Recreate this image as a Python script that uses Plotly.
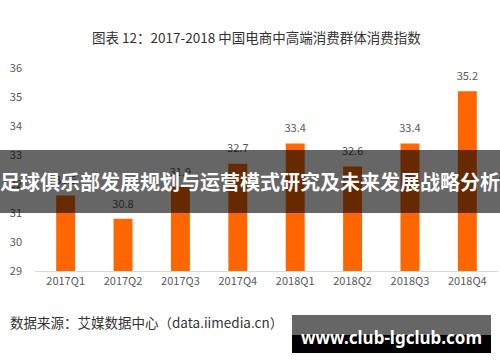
import plotly.graph_objects as go

categories = ["2017Q1", "2017Q2", "2017Q3", "2017Q4", "2018Q1", "2018Q2", "2018Q3", "2018Q4"]
values = [31.6, 30.8, 31.9, 32.7, 33.4, 32.6, 33.4, 35.2]
value_labels = ["31.6", "30.8", "31.9", "32.7", "33.4", "32.6", "33.4", "35.2"]
y_ticks = [29, 30, 31, 32, 33, 34, 35, 36]

title_text = "图表 12：2017-2018 中国电商中高端消费群体消费指数"
source_text = "数据来源：艾媒数据中心（data.iimedia.cn）"
banner_text = "足球俱乐部发展规划与运营模式研究及未来发展战略分析"
site_text = "www.club-lgclub.com"

W, H = 500, 362
L, R, T, B = 35, 2, 68, 91
PW, PH = W - L - R, H - T - B

def px(x):
    return (x - L) / PW

def py(y):
    return (H - B - y) / PH

FONT = "Noto Sans CJK SC, Noto Sans, sans-serif"
TICK = "#595959"
ORANGE = "#FF6600"

fig = go.Figure()
fig.add_trace(go.Bar(
    x=categories, y=values, marker=dict(color=ORANGE, line=dict(width=0)),
    width=0.33, hoverinfo="skip",
))
fig.add_trace(go.Scatter(
    x=categories, y=values, mode="markers+text", text=value_labels,
    textposition="top center",
    marker=dict(size=12, color="rgba(0,0,0,0)"),
    textfont=dict(family=FONT, size=11, color=TICK),
    cliponaxis=False, hoverinfo="skip",
))

shapes = [
    dict(type="rect", xref="paper", yref="paper", x0=px(0), x1=px(500), y0=py(150), y1=py(213),
         fillcolor="rgba(0,0,0,0.6)", line=dict(width=0), layer="above"),
    dict(type="rect", xref="paper", yref="paper", x0=px(292), x1=px(491), y0=py(315), y1=py(335),
         fillcolor="#666666", line=dict(width=0), layer="above"),
    dict(type="rect", xref="paper", yref="paper", x0=px(292), x1=px(491), y0=py(335), y1=py(353),
         fillcolor="#000000", line=dict(width=0), layer="above"),
]

annotations = [
    dict(text=title_text, xref="paper", yref="paper", x=px(256), y=py(37), showarrow=False,
         xanchor="center", yanchor="middle", font=dict(family=FONT, size=13.5, color="#333333")),
    dict(text=source_text, xref="paper", yref="paper", x=px(8), y=py(322), showarrow=False,
         xanchor="left", yanchor="middle", font=dict(family=FONT, size=13.5, color="#333333")),
    dict(text="<b>" + banner_text + "</b>", xref="paper", yref="paper", x=px(250), y=py(181), showarrow=False,
         xanchor="center", yanchor="middle", font=dict(family=FONT, size=20, color="white")),
    dict(text="<b>" + site_text + "</b>", xref="paper", yref="paper", x=px(391), y=py(337), showarrow=False,
         xanchor="center", yanchor="middle", font=dict(family="Noto Sans, sans-serif", size=17, color="white")),
]

fig.update_layout(
    width=W, height=H, margin=dict(l=L, r=R, t=T, b=B),
    paper_bgcolor="white", plot_bgcolor="white", showlegend=False,
    shapes=shapes, annotations=annotations,
    xaxis=dict(showgrid=False, showline=True, linecolor="#D9D9D9", linewidth=1,
               ticks="", tickfont=dict(family=FONT, size=11, color=TICK), zeroline=False),
    yaxis=dict(range=[29, 36], tickvals=y_ticks, showgrid=False, showline=False, zeroline=False,
               ticks="", ticklabelstandoff=12, tickfont=dict(family=FONT, size=11, color=TICK)),
)

fig.write_html("out.html", config={"displayModeBar": False},
               post_script="document.body.style.margin='0';document.body.style.overflow='hidden';")
